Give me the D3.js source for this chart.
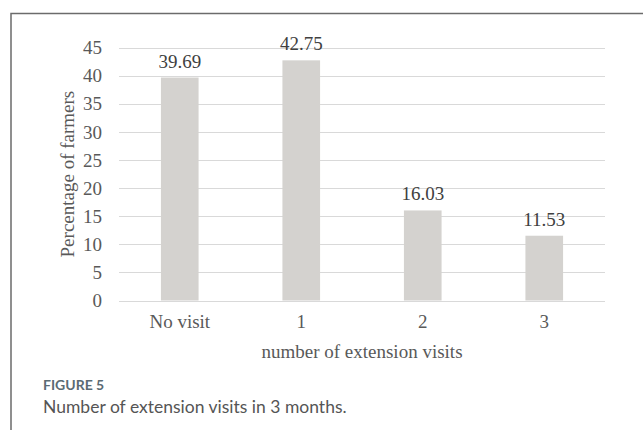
<!DOCTYPE html>
<html>
<head>
<meta charset="utf-8">
<script src="https://cdn.jsdelivr.net/npm/d3@7"></script>
<style>
  body { margin: 0; background: #fff; }
  svg { display: block; }
</style>
</head>
<body>
<svg id="chart" width="643" height="430"></svg>
<script>
const categories = ["No visit", "1", "2", "3"];
const values = [39.69, 42.75, 16.03, 11.53];
const yTicks = [0, 5, 10, 15, 20, 25, 30, 35, 40, 45];

const svg = d3.select("#chart");
const margin = { left: 119, right: 38, top: 48, bottom: 130 }; // plot area 119..605, 48..300
const width = 643, height = 430;

const x = d3.scaleBand()
  .domain(categories)
  .range([margin.left, width - margin.right])
  .paddingInner(0.69)
  .paddingOuter(0.345);

const y = d3.scaleLinear()
  .domain([0, 45])
  .range([300.5, 47.7]);

// frame (top + left rule)
svg.append("path")
  .attr("d", `M11,430 V13.5 H643`)
  .attr("fill", "none")
  .attr("stroke", "#6b6b6b")
  .attr("stroke-width", 1.5);

// gridlines
svg.append("g")
  .selectAll("line")
  .data(yTicks)
  .join("line")
  .attr("x1", margin.left)
  .attr("x2", width - margin.right)
  .attr("y1", d => Math.round(y(d)) + 0.5)
  .attr("y2", d => Math.round(y(d)) + 0.5)
  .attr("stroke", "#d9d9d9")
  .attr("stroke-width", 1);

const serif = "'Liberation Serif', 'Times New Roman', serif";

// y tick labels
const yAxis = svg.append("g")
  .attr("transform", `translate(${margin.left},0)`)
  .call(d3.axisLeft(y).tickValues(yTicks).tickSize(0).tickPadding(17))
  .attr("font-family", serif)
  .attr("font-size", 19);
yAxis.select(".domain").remove();
yAxis.selectAll("text").attr("fill", "#595959");

// x tick labels
const xAxis = svg.append("g")
  .attr("transform", `translate(0,${y(0)})`)
  .call(d3.axisBottom(x).tickSize(0).tickPadding(14))
  .attr("font-family", serif)
  .attr("font-size", 19);
xAxis.select(".domain").remove();
xAxis.selectAll("text").attr("fill", "#595959");

// bars
svg.append("g")
  .selectAll("rect")
  .data(values)
  .join("rect")
  .attr("x", (d, i) => x(categories[i]))
  .attr("width", x.bandwidth())
  .attr("y", d => y(d))
  .attr("height", d => y(0) - y(d))
  .attr("fill", "#d4d2cf");

// value labels
svg.append("g")
  .selectAll("text")
  .data(values)
  .join("text")
  .attr("x", (d, i) => x(categories[i]) + x.bandwidth() / 2)
  .attr("y", d => y(d) - 10)
  .attr("text-anchor", "middle")
  .attr("font-family", serif)
  .attr("font-size", 19)
  .attr("fill", "#404040")
  .text(d => d.toFixed(2));

// axis titles
svg.append("text")
  .attr("x", (margin.left + width - margin.right) / 2)
  .attr("y", 358)
  .attr("text-anchor", "middle")
  .attr("font-family", serif)
  .attr("font-size", 19)
  .attr("fill", "#595959")
  .text("number of extension visits");

svg.append("text")
  .attr("transform", `translate(74,${(y(0) + y(45)) / 2}) rotate(-90)`)
  .attr("text-anchor", "middle")
  .attr("font-family", serif)
  .attr("font-size", 19)
  .attr("fill", "#595959")
  .text("Percentage of farmers");

// caption
svg.append("text")
  .attr("x", 43)
  .attr("y", 390)
  .attr("font-family", "Lato, 'Open Sans', sans-serif")
  .attr("font-weight", "bold")
  .attr("font-size", 14)
  .attr("fill", "#5b6b74")
  .text("FIGURE 5");

svg.append("text")
  .attr("x", 43)
  .attr("y", 413)
  .attr("font-family", "Lato, 'Open Sans', sans-serif")
  .attr("font-size", 17.5)
  .attr("fill", "#555")
  .text("Number of extension visits in 3 months.");
</script>
</body>
</html>
